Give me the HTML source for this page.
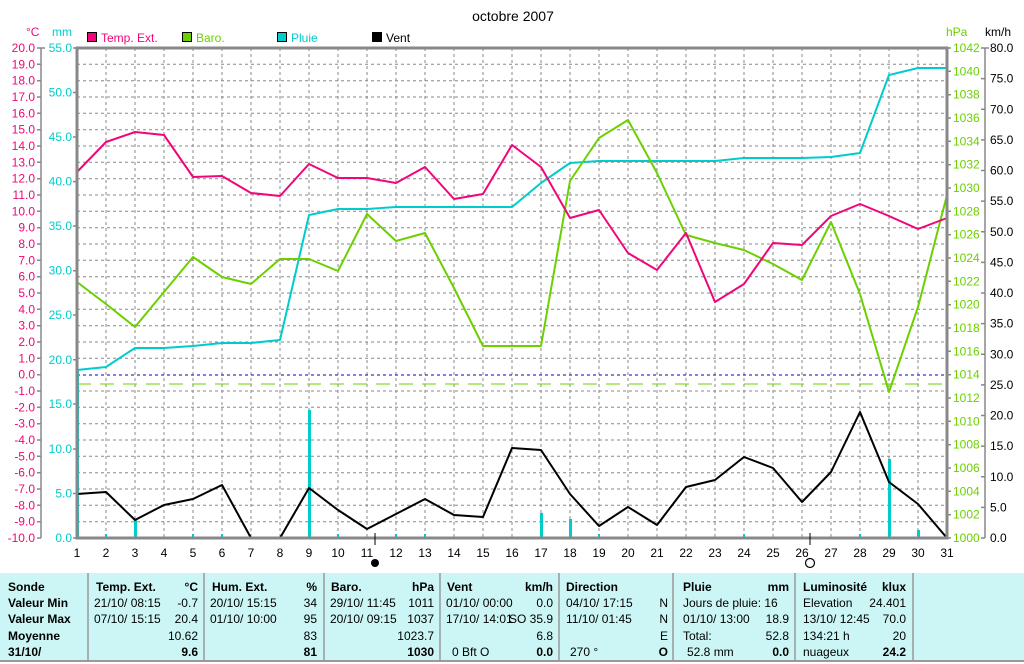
<!DOCTYPE html>
<html><head><meta charset="utf-8"><style>
html,body{margin:0;padding:0;background:#fff;}
svg{display:block;font-family:"Liberation Sans",sans-serif;}
</style></head><body>
<svg width="1024" height="664" viewBox="0 0 1024 664" xmlns="http://www.w3.org/2000/svg">
<rect width="1024" height="664" fill="#fff"/>
<text x="513" y="21" font-size="14" text-anchor="middle" fill="#000">octobre 2007</text>
<!-- legend -->
<g font-size="12">
<rect x="87.5" y="32.5" width="9" height="9" fill="#f0067a" stroke="#000"/><text x="101" y="42" fill="#f0067a">Temp. Ext.</text>
<rect x="182.5" y="32.5" width="9" height="9" fill="#6cd000" stroke="#000"/><text x="196" y="42" fill="#6cd000">Baro.</text>
<rect x="277.5" y="32.5" width="9" height="9" fill="#00cccc" stroke="#000"/><text x="291" y="42" fill="#00cccc">Pluie</text>
<rect x="372.5" y="32.5" width="9" height="9" fill="#000" stroke="#000"/><text x="386" y="42" fill="#000">Vent</text>
<text x="26" y="36" fill="#f0067a">°C</text>
<text x="52" y="36" fill="#00cccc">mm</text>
<text x="946" y="36" fill="#6cd000">hPa</text>
<text x="985" y="36" fill="#000">km/h</text>
</g>
<!-- grid -->
<g stroke="#888" stroke-width="1" stroke-dasharray="3,3">
<path d="M106 48V538M135 48V538M164 48V538M193 48V538M222 48V538M251 48V538M280 48V538M309 48V538M338 48V538M367 48V538M396 48V538M425 48V538M454 48V538M483 48V538M512 48V538M541 48V538M570 48V538M599 48V538M628 48V538M657 48V538M686 48V538M715 48V538M744 48V538M773 48V538M802 48V538M831 48V538M860 48V538M889 48V538M918 48V538"/>
<path d="M77 64.3H947M77 80.7H947M77 97H947M77 113.3H947M77 129.7H947M77 146H947M77 162.3H947M77 178.7H947M77 195H947M77 211.3H947M77 227.7H947M77 244H947M77 260.3H947M77 276.7H947M77 293H947M77 309.3H947M77 325.7H947M77 342H947M77 358.3H947M77 391H947M77 407.3H947M77 423.7H947M77 440H947M77 456.3H947M77 472.7H947M77 489H947M77 505.3H947M77 521.7H947"/>
</g>
<line x1="77" y1="375" x2="947" y2="375" stroke="#0000c0" stroke-dasharray="3,3"/>
<line x1="77" y1="384" x2="947" y2="384" stroke="#6cd000" stroke-dasharray="14,9"/>
<!-- rain bars -->
<g fill="#00cccc">
<rect x="76" y="370" width="3" height="168"/>
<rect x="134" y="519" width="3" height="19"/>
<rect x="308" y="410" width="3" height="128"/>
<rect x="540" y="513" width="3" height="25"/>
<rect x="569" y="519" width="3" height="19"/>
<rect x="888" y="459" width="3" height="79"/>
<rect x="917" y="530" width="3" height="8"/>
<rect x="105" y="534" width="2" height="4"/><rect x="192" y="534" width="2" height="4"/><rect x="221" y="534" width="2" height="4"/><rect x="337" y="534" width="2" height="4"/><rect x="395" y="534" width="2" height="4"/><rect x="424" y="534" width="2" height="4"/><rect x="598" y="534" width="2" height="4"/><rect x="743" y="534" width="2" height="4"/><rect x="859" y="534" width="2" height="4"/>
</g>
<!-- series -->
<g fill="none" stroke-width="2" stroke-linejoin="round">
<polyline stroke="#00cccc" points="77,538 77,370 106,367 135,348 164,348 193,346 222,343 251,343 280,340 309,215 338,209 367,209 396,207 425,207 454,207 483,207 512,207 541,183 570,163 599,161 628,161 657,161 686,161 715,161 744,158 773,158 802,158 831,157 860,153 889,75 918,68 947,68"/>
<polyline stroke="#6cd000" points="77,282 106,304 135,327 164,292 193,257 222,277 251,284 280,259 309,259 338,271 367,214 396,241 425,233 454,288 483,346 512,346 541,346 570,181 599,138 628,120 657,173 686,235 715,243 744,250 773,264 802,280 831,222 860,294 889,392 918,307 947,195"/>
<polyline stroke="#f0067a" points="77,172 106,142 135,132 164,135 193,177 222,176 251,193 280,196 309,164 338,178 367,178 396,183 425,167 454,199 483,194 512,145 541,167 570,218 599,210 628,253 657,270 686,233 715,302 744,284 773,243 802,245 831,216 860,204 889,216 918,229 947,218"/>
<polyline stroke="#000" points="77,494 106,492 135,520 164,505 193,499 222,485 251,538 280,538 309,488 338,510 367,529 396,514 425,499 454,515 483,517 512,448 541,450 570,494 599,526 628,507 657,525 686,487 715,480 744,457 773,468 802,502 831,472 860,412 889,482 918,504 947,538"/>
</g>
<!-- frame -->
<rect x="77" y="48" width="870" height="490" fill="none" stroke="#888" stroke-width="3"/>
<g stroke="#888" stroke-width="1.5">
<line x1="41" y1="48" x2="41" y2="538"/>
<line x1="985" y1="48" x2="985" y2="538"/>
<path d="M37 48h8M37 64.3h4M37 80.7h4M37 97h4M37 113.3h4M37 129.7h4M37 146h4M37 162.3h4M37 178.7h4M37 195h4M37 211.3h4M37 227.7h4M37 244h4M37 260.3h4M37 276.7h4M37 293h4M37 309.3h4M37 325.7h4M37 342h4M37 358.3h4M37 374.7h4M37 391h4M37 407.3h4M37 423.7h4M37 440h4M37 456.3h4M37 472.7h4M37 489h4M37 505.3h4M37 521.7h4M37 538h4"/>
<path d="M73 48h4M73 92.5h4M73 137h4M73 181.6h4M73 226h4M73 270.7h4M73 315h4M73 359.8h4M73 404h4M73 449h4M73 493.5h4M73 538h4"/>
<path d="M947 48h4M947 71.3h4M947 94.7h4M947 118h4M947 141.3h4M947 164.7h4M947 188h4M947 211.3h4M947 234.7h4M947 258h4M947 281.3h4M947 304.7h4M947 328h4M947 351.3h4M947 374.7h4M947 398h4M947 421.3h4M947 444.7h4M947 468h4M947 491.3h4M947 514.7h4M947 538h4"/>
<path d="M981 48h8M981 78.6h4M981 109.3h4M981 139.9h4M981 170.5h4M981 201.1h4M981 231.8h4M981 262.4h4M981 293h4M981 323.6h4M981 354.3h4M981 384.9h4M981 415.5h4M981 446.1h4M981 476.8h4M981 507.4h4M981 538h4"/>
</g>
<line x1="375" y1="533" x2="375" y2="545" stroke="#000"/>
<line x1="810" y1="533" x2="810" y2="545" stroke="#000"/>
<circle cx="375" cy="563" r="4" fill="#000"/>
<circle cx="810" cy="563" r="4.5" fill="#fff" stroke="#000" stroke-width="1.2"/>
<!-- left °C labels -->
<g font-size="12" fill="#f0067a" text-anchor="end">
<text x="35" y="52">20.0</text><text x="35" y="68.3">19.0</text><text x="35" y="84.7">18.0</text><text x="35" y="101">17.0</text><text x="35" y="117.3">16.0</text><text x="35" y="133.7">15.0</text><text x="35" y="150">14.0</text><text x="35" y="166.3">13.0</text><text x="35" y="182.7">12.0</text><text x="35" y="199">11.0</text><text x="35" y="215.3">10.0</text><text x="35" y="231.7">9.0</text><text x="35" y="248">8.0</text><text x="35" y="264.3">7.0</text><text x="35" y="280.7">6.0</text><text x="35" y="297">5.0</text><text x="35" y="313.3">4.0</text><text x="35" y="329.7">3.0</text><text x="35" y="346">2.0</text><text x="35" y="362.3">1.0</text><text x="35" y="378.7">0.0</text><text x="35" y="395">-1.0</text><text x="35" y="411.3">-2.0</text><text x="35" y="427.7">-3.0</text><text x="35" y="444">-4.0</text><text x="35" y="460.3">-5.0</text><text x="35" y="476.7">-6.0</text><text x="35" y="493">-7.0</text><text x="35" y="509.3">-8.0</text><text x="35" y="525.7">-9.0</text><text x="35" y="542">-10.0</text>
</g>
<g font-size="12" fill="#00cccc" text-anchor="end">
<text x="72" y="52">55.0</text><text x="72" y="96.5">50.0</text><text x="72" y="141">45.0</text><text x="72" y="185.6">40.0</text><text x="72" y="230">35.0</text><text x="72" y="274.7">30.0</text><text x="72" y="319">25.0</text><text x="72" y="363.8">20.0</text><text x="72" y="408">15.0</text><text x="72" y="453">10.0</text><text x="72" y="497.5">5.0</text><text x="72" y="542">0.0</text>
</g>
<g font-size="12" fill="#6cd000">
<text x="953" y="52">1042</text><text x="953" y="75.3">1040</text><text x="953" y="98.7">1038</text><text x="953" y="122">1036</text><text x="953" y="145.3">1034</text><text x="953" y="168.7">1032</text><text x="953" y="192">1030</text><text x="953" y="215.3">1028</text><text x="953" y="238.7">1026</text><text x="953" y="262">1024</text><text x="953" y="285.3">1022</text><text x="953" y="308.7">1020</text><text x="953" y="332">1018</text><text x="953" y="355.3">1016</text><text x="953" y="378.7">1014</text><text x="953" y="402">1012</text><text x="953" y="425.3">1010</text><text x="953" y="448.7">1008</text><text x="953" y="472">1006</text><text x="953" y="495.3">1004</text><text x="953" y="518.7">1002</text><text x="953" y="542">1000</text>
</g>
<g font-size="12" fill="#000">
<text x="990" y="52">80.0</text><text x="990" y="82.6">75.0</text><text x="990" y="113.3">70.0</text><text x="990" y="143.9">65.0</text><text x="990" y="174.5">60.0</text><text x="990" y="205.1">55.0</text><text x="990" y="235.8">50.0</text><text x="990" y="266.4">45.0</text><text x="990" y="297">40.0</text><text x="990" y="327.6">35.0</text><text x="990" y="358.3">30.0</text><text x="990" y="388.9">25.0</text><text x="990" y="419.5">20.0</text><text x="990" y="450.1">15.0</text><text x="990" y="480.8">10.0</text><text x="990" y="511.4">5.0</text><text x="990" y="542">0.0</text>
</g>
<g font-size="12" fill="#000" text-anchor="middle">
<text x="77" y="557">1</text><text x="106" y="557">2</text><text x="135" y="557">3</text><text x="164" y="557">4</text><text x="193" y="557">5</text><text x="222" y="557">6</text><text x="251" y="557">7</text><text x="280" y="557">8</text><text x="309" y="557">9</text><text x="338" y="557">10</text><text x="367" y="557">11</text><text x="396" y="557">12</text><text x="425" y="557">13</text><text x="454" y="557">14</text><text x="483" y="557">15</text><text x="512" y="557">16</text><text x="541" y="557">17</text><text x="570" y="557">18</text><text x="599" y="557">19</text><text x="628" y="557">20</text><text x="657" y="557">21</text><text x="686" y="557">22</text><text x="715" y="557">23</text><text x="744" y="557">24</text><text x="773" y="557">25</text><text x="802" y="557">26</text><text x="831" y="557">27</text><text x="860" y="557">28</text><text x="889" y="557">29</text><text x="918" y="557">30</text><text x="947" y="557">31</text>
</g>
<!-- table -->
<rect x="0" y="573" width="1024" height="88" fill="#ccf6f6"/>
<line x1="0" y1="661" x2="1024" y2="661" stroke="#999" stroke-width="2"/>
<g stroke="#999" stroke-width="1.5">
<line x1="88" y1="573" x2="88" y2="661"/><line x1="204" y1="573" x2="204" y2="661"/><line x1="324" y1="573" x2="324" y2="661"/><line x1="440" y1="573" x2="440" y2="661"/><line x1="559" y1="573" x2="559" y2="661"/><line x1="673" y1="573" x2="673" y2="661"/><line x1="795" y1="573" x2="795" y2="661"/><line x1="913" y1="573" x2="913" y2="661"/>
</g>
<g font-size="12" fill="#000">
<g font-weight="bold"><text x="8" y="591">Sonde</text><text x="8" y="607">Valeur Min</text><text x="8" y="623">Valeur Max</text><text x="8" y="640">Moyenne</text><text x="8" y="656">31/10/</text></g>
<text x="96" y="591" font-weight="bold">Temp. Ext.</text><text x="198" y="591" font-weight="bold" text-anchor="end">°C</text>
<text x="94" y="607">21/10/  08:15</text><text x="198" y="607" text-anchor="end">-0.7</text>
<text x="94" y="623">07/10/  15:15</text><text x="198" y="623" text-anchor="end">20.4</text>
<text x="198" y="640" text-anchor="end">10.62</text><text x="198" y="656" text-anchor="end" font-weight="bold">9.6</text>
<text x="212" y="591" font-weight="bold">Hum. Ext.</text><text x="317" y="591" font-weight="bold" text-anchor="end">%</text>
<text x="210" y="607">20/10/  15:15</text><text x="317" y="607" text-anchor="end">34</text>
<text x="210" y="623">01/10/  10:00</text><text x="317" y="623" text-anchor="end">95</text>
<text x="317" y="640" text-anchor="end">83</text><text x="317" y="656" text-anchor="end" font-weight="bold">81</text>
<text x="331" y="591" font-weight="bold">Baro.</text><text x="434" y="591" font-weight="bold" text-anchor="end">hPa</text>
<text x="330" y="607">29/10/  11:45</text><text x="434" y="607" text-anchor="end">1011</text>
<text x="330" y="623">20/10/  09:15</text><text x="434" y="623" text-anchor="end">1037</text>
<text x="434" y="640" text-anchor="end">1023.7</text><text x="434" y="656" text-anchor="end" font-weight="bold">1030</text>
<text x="447" y="591" font-weight="bold">Vent</text><text x="553" y="591" font-weight="bold" text-anchor="end">km/h</text>
<text x="446" y="607">01/10/  00:00</text><text x="553" y="607" text-anchor="end">0.0</text>
<text x="446" y="623">17/10/  14:01</text><text x="553" y="623" text-anchor="end">SO 35.9</text>
<text x="553" y="640" text-anchor="end">6.8</text>
<text x="452" y="656">0 Bft O</text><text x="553" y="656" text-anchor="end" font-weight="bold">0.0</text>
<text x="566" y="591" font-weight="bold">Direction</text>
<text x="566" y="607">04/10/  17:15</text><text x="668" y="607" text-anchor="end">N</text>
<text x="566" y="623">11/10/  01:45</text><text x="668" y="623" text-anchor="end">N</text>
<text x="668" y="640" text-anchor="end">E</text>
<text x="570" y="656">270 °</text><text x="668" y="656" text-anchor="end" font-weight="bold">O</text>
<text x="683" y="591" font-weight="bold">Pluie</text><text x="789" y="591" font-weight="bold" text-anchor="end">mm</text>
<text x="683" y="607">Jours de pluie: 16</text>
<text x="683" y="623">01/10/  13:00</text><text x="789" y="623" text-anchor="end">18.9</text>
<text x="683" y="640">Total:</text><text x="789" y="640" text-anchor="end">52.8</text>
<text x="687" y="656">52.8 mm</text><text x="789" y="656" text-anchor="end" font-weight="bold">0.0</text>
<text x="803" y="591" font-weight="bold">Luminosité</text><text x="906" y="591" font-weight="bold" text-anchor="end">klux</text>
<text x="803" y="607">Elevation</text><text x="906" y="607" text-anchor="end">24.401</text>
<text x="803" y="623">13/10/  12:45</text><text x="906" y="623" text-anchor="end">70.0</text>
<text x="803" y="640">134:21 h</text><text x="906" y="640" text-anchor="end">20</text>
<text x="803" y="656">nuageux</text><text x="906" y="656" text-anchor="end" font-weight="bold">24.2</text>
</g>
</svg>
</body></html>
